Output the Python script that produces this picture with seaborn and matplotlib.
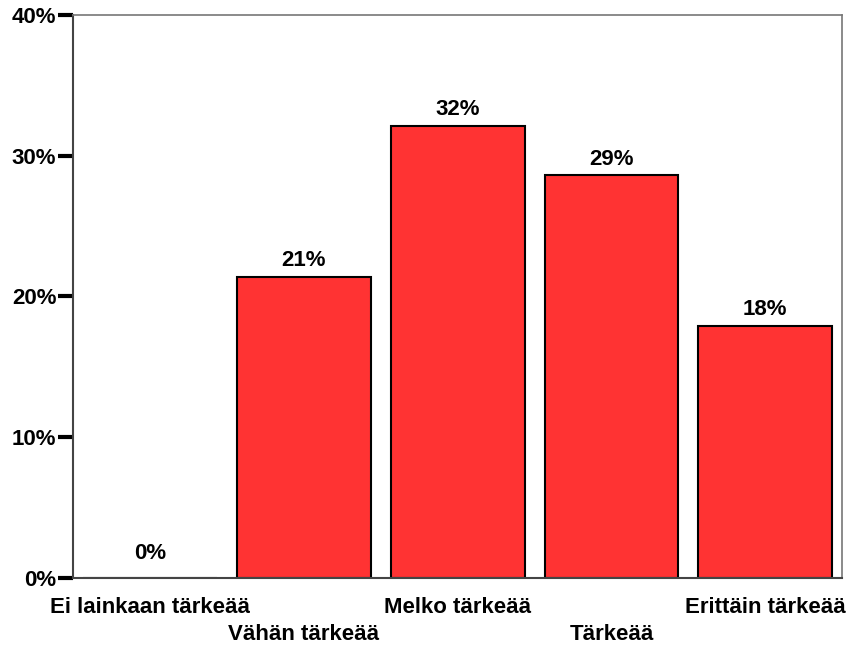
import matplotlib
matplotlib.use("Agg")
import matplotlib.pyplot as plt
import seaborn as sns
import pandas as pd

categories = ["Ei lainkaan tärkeää", "Vähän tärkeää", "Melko tärkeää", "Tärkeää", "Erittäin tärkeää"]
percent = [0.0, 21.4, 32.1, 28.6, 17.9]
y_ticks = [0, 10, 20, 30, 40]
y_tick_labels = ["0%", "10%", "20%", "30%", "40%"]

df = pd.DataFrame({"category": categories, "percent": percent})

sns.set_style("white")
plt.rcParams["font.family"] = ["Liberation Sans", "DejaVu Sans"]
plt.rcParams["font.weight"] = "bold"
plt.rcParams["text.color"] = "black"
plt.rcParams["xtick.color"] = "black"
plt.rcParams["ytick.color"] = "black"

fig, ax = plt.subplots(figsize=(8.49, 6.45), dpi=100)
fig.subplots_adjust(left=0.086, right=0.992, top=0.977, bottom=0.104)

sns.barplot(data=df, x="category", y="percent", color="#FF3333", saturation=1,
            edgecolor="black", linewidth=1.5, width=0.87, ax=ax)

ax.set_xlim(-0.5, len(categories) - 0.5)
ax.set_ylim(0, 40)
ax.set_yticks(y_ticks)
ax.set_yticklabels(y_tick_labels, fontsize=16, fontweight="bold")
ax.tick_params(axis="y", length=11, width=3, color="black", labelcolor="black",
               direction="out", pad=1, left=True)
ax.tick_params(axis="x", length=0, pad=14, labelcolor="black")

ax.set_xticks(range(len(categories)))
ax.set_xticklabels(categories, fontsize=16, fontweight="bold")
# stagger every other category label onto a second row
for i, tick in enumerate(ax.xaxis.get_major_ticks()):
    if i % 2 == 1:
        tick.set_pad(33)
ax.set_xlabel("")
ax.set_ylabel("")

for i, v in enumerate(percent):
    off = 10 if v == 0 else 4
    ax.annotate(f"{round(v):.0f}%", (i, v), xytext=(0, off), textcoords="offset points",
                ha="center", va="bottom", fontsize=16, fontweight="bold", color="black")

for side in ["left", "bottom"]:
    ax.spines[side].set_color("#444444")
    ax.spines[side].set_linewidth(1.5)
for side in ["top", "right"]:
    ax.spines[side].set_visible(True)
    ax.spines[side].set_color("#777777")
    ax.spines[side].set_linewidth(1.2)

fig.savefig("out.png", dpi=100)
